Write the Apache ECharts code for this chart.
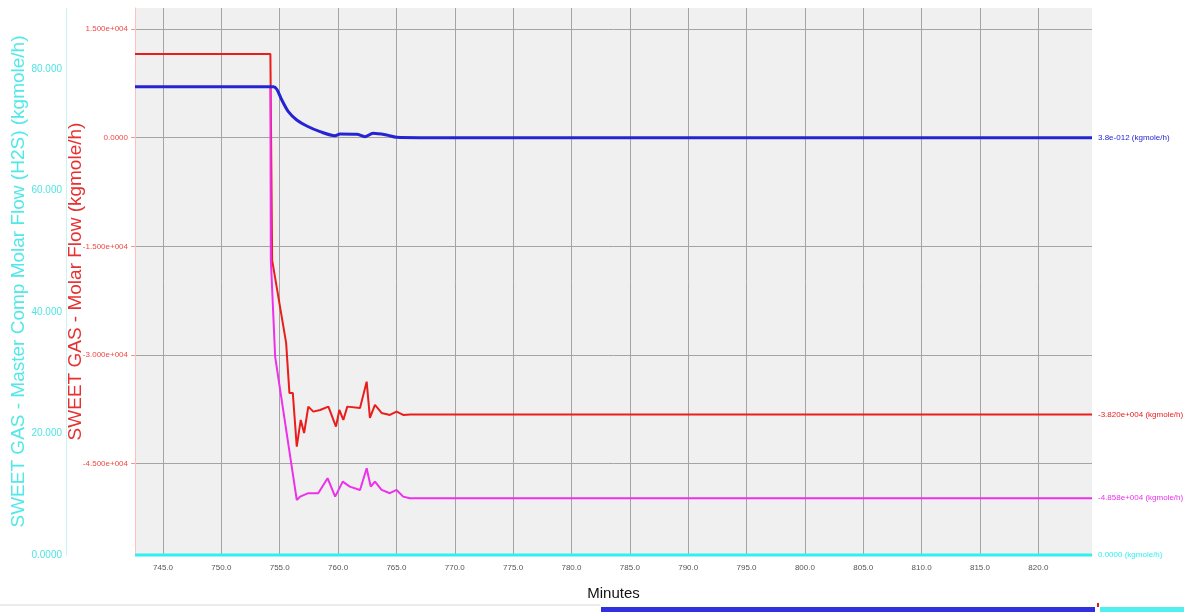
<!DOCTYPE html>
<html><head><meta charset="utf-8">
<script src="https://cdn.jsdelivr.net/npm/echarts@6/dist/echarts.min.js"></script>
<style>html,body{margin:0;padding:0;background:#fff}#c{width:1184px;height:612px}</style>
</head><body><div id="c"></div>
<script>
// ---- data ----
const xTicks = [745,750,755,760,765,770,775,780,785,790,795,800,805,810,815,820];
const flowTicks = [-45000,-30000,-15000,0,15000];
const flowTickLabels = ['-4.500e+004','-3.000e+004','-1.500e+004','0.0000','1.500e+004'];
const h2sTicks = [0,20,40,60,80];
const h2sTickLabels = ['0.0000','20.000','40.000','60.000','80.000'];

const redT = [742.6,754.2,754.35,755.55,755.83,756.12,756.46,756.8,757.09,757.45,757.88,758.46,759.17,759.82,760.11,760.45,760.79,761.88,762.45,762.73,763.16,763.73,764.44,765.01,765.58,766.2,824.6];
const redV = [11550,11550,-16900,-28330,-35230,-35230,-42640,-38960,-40760,-37120,-37810,-37580,-37120,-39880,-37580,-38960,-37120,-37300,-33670,-38680,-36890,-37990,-38270,-37810,-38270,-38200,-38200];

const magT = [742.6,754.2,754.24,754.61,756.46,756.75,757.45,758.3,759.1,759.75,760.4,761.0,761.88,762.45,762.8,763.16,763.73,764.44,765.01,765.58,766.15,824.6];
const magV = [7000,7000,-16880,-30260,-50000,-49540,-49070,-49070,-47000,-49540,-47470,-48160,-48620,-45620,-48160,-47470,-48620,-49070,-48620,-49540,-49760,-49760];

const blueT = [742.6,754.46,754.75,755.18,755.74,756.46,757.32,758.46,759.74,760.17,761.6,762.3,763.0,764.16,765.0,767.0,824.6];
const blueV = [7040,7040,6680,5200,3590,2440,1610,830,280,510,470,140,610,370,55,0,0];

const cyanT = [742.6,824.6];
const cyanV = [0,0];

const endLabels = {
  red: '-3.820e+004 (kgmole/h)',
  magenta: '-4.858e+004 (kgmole/h)',
  blue: '3.8e-012 (kgmole/h)',
  cyan: '0.0000 (kgmole/h)'
};

const zip = (t, v) => t.map((x, i) => [x, v[i]]);
const FONT = "'Liberation Sans Narrow','Liberation Sans',Arial,sans-serif";
const FONTW = "'Liberation Sans',Arial,sans-serif";

const chart = echarts.init(document.getElementById('c'), null, {renderer: 'canvas'});

function mkLine(name, t, v, color, width, yIdx, label, smooth) {
  return {
    name, type: 'line', yAxisIndex: yIdx, data: zip(t, v),
    symbol: 'none', smooth: smooth || false, clip: false,
    lineStyle: {color, width}, itemStyle: {color},
    endLabel: {show: true, formatter: () => label, color, fontSize: 8, distance: 6, fontFamily: FONT}
  };
}

chart.setOption({
  animation: false,
  backgroundColor: '#ffffff',
  grid: {left: 135, right: 92, top: 8, bottom: 57, show: true, backgroundColor: '#f0f0f0', borderWidth: 0,
         containLabel: false, outerBoundsMode: 'none'},
  xAxis: {
    type: 'value', min: 742.6, max: 824.6,
    axisLine: {show: false},
    axisTick: {show: false, customValues: xTicks},
    axisLabel: {customValues: xTicks, formatter: v => v.toFixed(1), color: '#555', fontSize: 8, margin: 9, fontFamily: FONT},
    splitLine: {show: true, lineStyle: {color: '#a4a4a4', width: 1}},
    name: 'Minutes', nameLocation: 'middle', nameGap: 31, nameMoveOverlap: false,
    nameTextStyle: {color: '#111', fontSize: 15, fontFamily: FONT}
  },
  yAxis: [
    {
      type: 'value', position: 'left', min: -57600, max: 17900,
      axisLine: {show: true, lineStyle: {color: '#ffc0c0'}},
      axisTick: {show: true, length: 4, customValues: flowTicks, lineStyle: {color: '#ff9090'}},
      axisLabel: {customValues: flowTicks, formatter: v => flowTickLabels[flowTicks.indexOf(v)], color: '#f04848', fontSize: 8, margin: 7, fontFamily: FONT},
      splitLine: {show: true, lineStyle: {color: '#a4a4a4', width: 1}},
      name: 'SWEET GAS - Molar Flow (kgmole/h)', nameLocation: 'middle', nameRotate: 90, nameGap: 50, nameMoveOverlap: false,
      nameTextStyle: {color: '#e83030', fontSize: 19, fontFamily: FONTW}
    },
    {
      type: 'value', position: 'left', offset: 69, min: 0, max: 90,
      axisLine: {show: true, lineStyle: {color: '#c8f4f4'}},
      axisTick: {show: false, customValues: h2sTicks},
      axisLabel: {customValues: h2sTicks, formatter: v => h2sTickLabels[h2sTicks.indexOf(v)], color: '#50e4e4', fontSize: 10, margin: 4, fontFamily: FONT},
      splitLine: {show: false},
      name: 'SWEET GAS - Master Comp Molar Flow (H2S) (kgmole/h)', nameLocation: 'middle', nameRotate: 90, nameGap: 38, nameMoveOverlap: false,
      nameTextStyle: {color: '#50e8e8', fontSize: 19, fontFamily: FONTW}
    }
  ],
  series: [
    mkLine('cyan', cyanT, cyanV, '#30f0f0', 3, 1, endLabels.cyan),
    mkLine('red', redT, redV, '#ea1c1c', 2, 0, endLabels.red),
    mkLine('magenta', magT, magV, '#ec30ec', 2, 0, endLabels.magenta),
    mkLine('blue', blueT, blueV, '#2424d4', 3, 0, endLabels.blue, 0.3)
  ],
  graphic: [
    {type: 'line', shape: {x1: 0, y1: 605, x2: 600, y2: 605}, style: {stroke: '#d8d8d8', lineWidth: 1}},
    {type: 'rect', shape: {x: 601, y: 607, width: 494, height: 5}, style: {fill: '#3030e0'}},
    {type: 'rect', shape: {x: 1097, y: 603, width: 2, height: 4}, style: {fill: '#d02020'}},
    {type: 'rect', shape: {x: 1100, y: 607, width: 84, height: 5}, style: {fill: '#50f0f0'}}
  ]
});
</script>
</body></html>
